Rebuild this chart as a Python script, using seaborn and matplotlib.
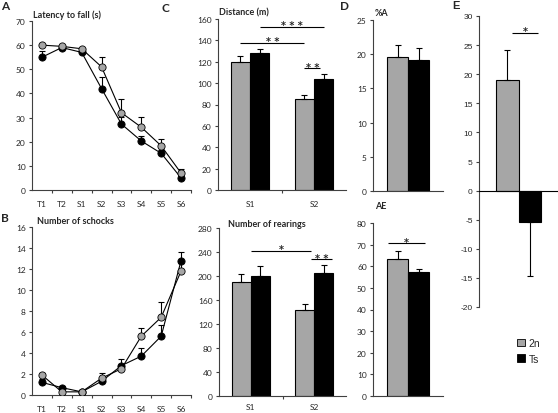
import numpy as np
import pandas as pd
import matplotlib
matplotlib.use('Agg')
import matplotlib.pyplot as plt
import seaborn as sns
from matplotlib.patches import Patch

# ---- data ----
groups = ['2n', 'Ts']
sessions = ['T1', 'T2', 'S1', 'S2', 'S3', 'S4', 'S5', 'S6']

latency_2n     = [60, 59.5, 58.5, 51, 32, 26, 18.3, 7]
latency_2n_err = [0.5, 0.5, 0.5, 4, 5.5, 4.3, 3, 1.5]
latency_ts     = [55, 59, 57, 42, 27.3, 20.3, 15.2, 5]
latency_ts_err = [2.5, 1, 1, 5, 3, 2, 1.5, 1]

shocks_2n     = [1.9, 0.3, 0.3, 1.6, 2.5, 5.6, 7.4, 11.8]
shocks_2n_err = [0.2, 0.2, 0.1, 0.5, 0.5, 0.8, 1.5, 0.8]
shocks_ts     = [1.2, 0.7, 0.3, 1.3, 2.8, 3.7, 5.6, 12.8]
shocks_ts_err = [0.3, 0.2, 0.1, 0.4, 0.6, 0.8, 1.1, 0.8]

test_days = ['S1', 'S2']
distance_2n     = [120, 85]
distance_2n_err = [5, 3.5]
distance_ts     = [128, 104]
distance_ts_err = [4, 5]

rearing_2n     = [190, 143]
rearing_2n_err = [13, 10]
rearing_ts     = [200, 205]
rearing_ts_err = [16, 14]

pct_a_2n, pct_a_2n_err = [19.6], [1.8]
pct_a_ts, pct_a_ts_err = [19.1], [1.8]
ae_2n, ae_2n_err = [63.5], [3.5]
ae_ts, ae_ts_err = [57.5], [1.3]
e_2n, e_2n_err = [19.0], [5.2]
e_ts, e_ts_err = [-5.4], [9.2]

palette = {'2n': '#a6a6a6', 'Ts': '#000000'}
SPINE = '#404040'

sns.set_style('ticks')
plt.rcParams['font.family'] = ['Lato', 'DejaVu Sans']
plt.rcParams['font.size'] = 6
plt.rcParams['axes.linewidth'] = 0.8
plt.rcParams['axes.edgecolor'] = SPINE
plt.rcParams['axes.unicode_minus'] = False

W, H = 558, 414
fig = plt.figure(figsize=(W / 100, H / 100), dpi=100)


def px_axes(l, t, r, b):
    return fig.add_axes([l / W, 1 - b / H, (r - l) / W, (b - t) / H])


def px_text(x, y, s, **kw):
    fig.text(x / W, 1 - y / H, s, va='center', ha='left', **kw)


def style_axes(ax, ymax, step, ymin=0):
    sns.despine(ax=ax)
    ax.set_ylim(ymin, ymax)
    ax.set_yticks(np.arange(ymin, ymax + step / 2, step))
    ax.tick_params(axis='y', length=2.5, width=0.8, pad=2, labelsize=6,
                   color=SPINE, labelcolor='#262626')
    ax.set_xlabel('')
    ax.set_ylabel('')


def line_panel(ax, v2n, e2n, vts, ets, ymax, step):
    x = np.arange(len(sessions))
    for vals, errs, grp in [(vts, ets, 'Ts'), (v2n, e2n, '2n')]:
        ax.errorbar(x, vals, yerr=[np.zeros(len(errs)), errs], fmt='none',
                    ecolor='black', elinewidth=0.8, capsize=2, capthick=0.8, zorder=2)
        sns.lineplot(x=x, y=vals, color='black', lw=0.8, marker='o', markersize=5.2,
                     markerfacecolor=palette[grp], markeredgecolor='black',
                     markeredgewidth=0.6, ax=ax, zorder=3)
    ax.set_xlim(-0.5, len(sessions) - 0.5)
    ax.set_xticks(x)
    ax.set_xticklabels(sessions)
    ax.set_xticks(np.arange(0.5, len(sessions), 1), minor=True)
    ax.tick_params(axis='x', which='major', length=0, pad=7, labelsize=6, labelcolor='#262626')
    ax.tick_params(axis='x', which='minor', length=2.5, width=0.8, color=SPINE)
    style_axes(ax, ymax, step)


def bar_panel(ax, cats, v2n, e2n, vts, ets):
    df = pd.DataFrame({'day': cats * 2,
                       'group': ['2n'] * len(cats) + ['Ts'] * len(cats),
                       'value': v2n + vts})
    sns.barplot(data=df, x='day', y='value', hue='group', order=cats, hue_order=groups,
                palette=palette, width=0.6, gap=0, saturation=1, edgecolor='black',
                linewidth=0.8, errorbar=None, legend=False, ax=ax, zorder=1)
    errs = e2n + ets
    centers = []
    for p, e in zip(ax.patches, errs):
        xc = p.get_x() + p.get_width() / 2
        top = p.get_y() + p.get_height()
        yerr = [[0], [e]] if top >= 0 else [[e], [0]]
        ax.errorbar([xc], [top], yerr=yerr, fmt='none', ecolor='black',
                    elinewidth=0.8, capsize=2, capthick=0.8, zorder=3)
        centers.append(xc)
    ax.set_xlim(-0.5, len(cats) - 0.5)
    return centers


def sig(ax, x0, x1, y, label, fs=7):
    ax.plot([x0, x1], [y, y], color='black', lw=0.8, solid_capstyle='butt')
    ax.annotate(label, xy=((x0 + x1) / 2, y), xytext=(0, -2.5), textcoords='offset points',
                ha='center', va='bottom', fontsize=fs, fontweight='bold',
                family='DejaVu Sans')


# ---- A: latency ----
ax_a = px_axes(32, 22, 191, 191)
line_panel(ax_a, latency_2n, latency_2n_err, latency_ts, latency_ts_err, 70, 10)

# ---- B: shocks ----
ax_b = px_axes(32, 228, 191, 396)
line_panel(ax_b, shocks_2n, shocks_2n_err, shocks_ts, shocks_ts_err, 16, 2)

# ---- C: distance / rearings ----
ax_c1 = px_axes(218, 20, 346, 191)
c1 = bar_panel(ax_c1, test_days, distance_2n, distance_2n_err, distance_ts, distance_ts_err)
ax_c2 = px_axes(219, 229, 346, 397)
c2 = bar_panel(ax_c2, test_days, rearing_2n, rearing_2n_err, rearing_ts, rearing_ts_err)
for ax, ymax, step, pad in [(ax_c1, 160, 20, 7), (ax_c2, 280, 40, 5)]:
    style_axes(ax, ymax, step)
    ax.set_xticks([0, 1])
    ax.set_xticks([0.5], minor=True)
    ax.tick_params(axis='x', which='major', length=0, pad=pad, labelsize=6, labelcolor='#262626')
    ax.tick_params(axis='x', which='minor', length=2.5, width=0.8, color=SPINE)

# c1 order: 2n S1, 2n S2, Ts S1, Ts S2
sig(ax_c1, c1[0], c1[1], 138, '* *')
sig(ax_c1, c1[2], c1[3], 152.5, '* * *')
sig(ax_c1, c1[1], c1[3] - 0.05, 114, '* *')
sig(ax_c2, (c2[0] + c2[2]) / 2, (c2[1] + c2[3]) / 2 - 0.05, 242, '*')
sig(ax_c2, c2[1] + 0.1, c2[3] + 0.13, 228, '* *')

# ---- D: %A / AE ----
ax_d1 = px_axes(373, 21, 443, 192)
bar_panel(ax_d1, ['x'], pct_a_2n, pct_a_2n_err, pct_a_ts, pct_a_ts_err)
style_axes(ax_d1, 25, 5)
ax_d2 = px_axes(373, 224, 443, 397)
d2 = bar_panel(ax_d2, ['x'], ae_2n, ae_2n_err, ae_ts, ae_ts_err)
style_axes(ax_d2, 80, 10)
for ax in (ax_d1, ax_d2):
    ax.set_xticks([])
sig(ax_d2, d2[0] - 0.14, d2[1] + 0.09, 70.7, '*')

# ---- E ----
ax_e = px_axes(479, 17, 558, 308)
e = bar_panel(ax_e, ['x'], e_2n, e_2n_err, e_ts, e_ts_err)
for p in ax_e.patches:
    p.set_width(0.285)
ax_e.patches[0].set_x(-0.285)
ax_e.patches[1].set_x(0.0)
style_axes(ax_e, 30, 5, ymin=-20)
ax_e.spines['bottom'].set_visible(False)
ax_e.set_xticks([])
ax_e.axhline(0, color='black', lw=0.8, zorder=4)
for lbl in ax_e.get_yticklabels():
    lbl.set_family('Liberation Sans')
sig(ax_e, -0.08, 0.25, 27.1, '*')

# legend
handles = [Patch(facecolor=palette[g], edgecolor='black', linewidth=0.6) for g in groups]
fig.legend(handles, groups, loc='upper left', bbox_to_anchor=(508 / W, 1 - 330 / H),
           frameon=False, handlelength=0.7, handleheight=0.7, handletextpad=0.4,
           labelspacing=0.5, prop={'family': 'Liberation Sans', 'size': 7.5})

# ---- titles and panel letters ----
for x, y, s in [(33, 15, 'Latency to fall (s)'), (37, 222, 'Number of schocks'),
                (219, 13, 'Distance (m)'), (228, 225, 'Number of rearings'),
                (375, 14, '%A'), (375, 207, 'AE')]:
    px_text(x, y, s, fontsize=6.5, fontweight='bold')
for x, y, s in [(1, 7, 'A'), (1, 219, 'B'), (161, 8, 'C'), (340, 7, 'D')]:
    px_text(x, y, s, fontsize=8.5, fontweight='bold')
px_text(452, 6, 'E', fontsize=8, fontweight='bold', family='Liberation Sans')

fig.savefig('out.png', dpi=100)
